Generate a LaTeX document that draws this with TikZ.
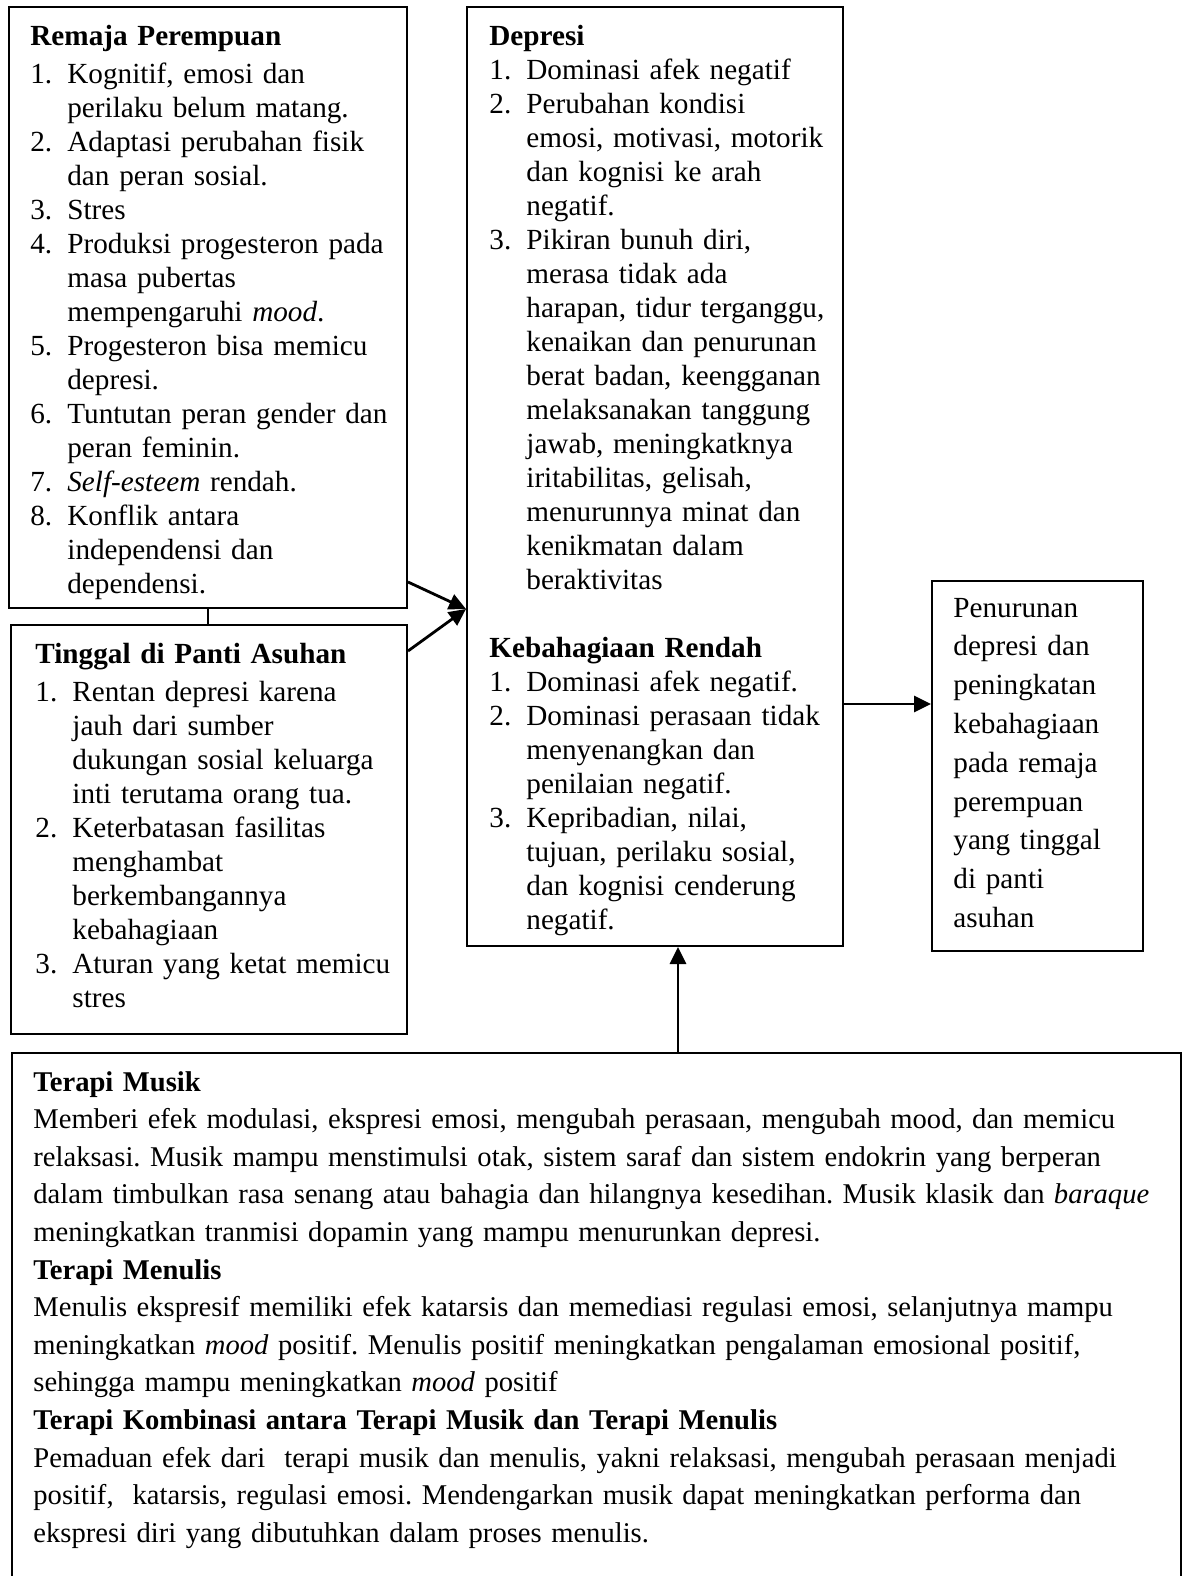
\documentclass[tikz,border=0pt]{standalone}
\usepackage{fontspec}
\setmainfont{Liberation Serif}
\usepackage{tikz}
\usetikzlibrary{arrows.meta,fit}

\newlength\numw
\setlength\numw{18.5pt}
\newcommand{\itm}[1]{\makebox[\numw][l]{#1}}
\newcommand{\ind}{\hspace*{\numw}}
\frenchspacing

\begin{document}
\begin{tikzpicture}[x=0.5pt, y=-0.5pt,
    box/.style={draw, line width=1pt, inner sep=0pt},
    txt/.style={anchor=base west, inner sep=0pt, align=left, text width=#1,
      font=\fontsize{14.6pt}{17pt}\selectfont},
    txt/.default=190pt,
    arr/.style={-{Triangle[length=8.5pt,width=8pt]}, line width=1.4pt}]
    \useasboundingbox (0,0) rectangle (1191,1576);
    % Box Remaja Perempuan
    \node[box, fit={(9,7) (407,608)}] (rem) {};
    \node[txt] (remtxt) at (30,45) {\textbf{Remaja Perempuan}\\[2pt]
      \itm{1.}Kognitif, emosi dan\\
      \ind perilaku belum matang.\\
      \itm{2.}Adaptasi perubahan fisik\\
      \ind dan peran sosial.\\
      \itm{3.}Stres\\
      \itm{4.}Produksi progesteron pada\\
      \ind masa pubertas\\
      \ind mempengaruhi \textit{mood}.\\
      \itm{5.}Progesteron bisa memicu\\
      \ind depresi.\\
      \itm{6.}Tuntutan peran gender dan\\
      \ind peran feminin.\\
      \itm{7.}\textit{Self-esteem} rendah.\\
      \itm{8.}Konflik antara\\
      \ind independensi dan\\
      \ind dependensi.};
    % Box Tinggal di Panti Asuhan
    \node[box, fit={(11,625) (407,1034)}] (pan) {};
    \node[txt] (pantxt) at (35,663) {\textbf{Tinggal di Panti Asuhan}\\[2pt]
      \itm{1.}Rentan depresi karena\\
      \ind jauh dari sumber\\
      \ind dukungan sosial keluarga\\
      \ind inti terutama orang tua.\\
      \itm{2.}Keterbatasan fasilitas\\
      \ind menghambat\\
      \ind berkembangannya\\
      \ind kebahagiaan\\
      \itm{3.}Aturan yang ketat memicu\\
      \ind stres};
    % Box Depresi / Kebahagiaan Rendah
    \node[box, fit={(467,7) (843,946)}] (dep) {};
    \node[txt] (deptxt) at (489,45) {\textbf{Depresi}\\
      \itm{1.}Dominasi afek negatif\\
      \itm{2.}Perubahan kondisi\\
      \ind emosi, motivasi, motorik\\
      \ind dan kognisi ke arah\\
      \ind negatif.\\
      \itm{3.}Pikiran bunuh diri,\\
      \ind merasa tidak ada\\
      \ind harapan, tidur terganggu,\\
      \ind kenaikan dan penurunan\\
      \ind berat badan, keengganan\\
      \ind melaksanakan tanggung\\
      \ind jawab, meningkatknya\\
      \ind iritabilitas, gelisah,\\
      \ind menurunnya minat dan\\
      \ind kenikmatan dalam\\
      \ind beraktivitas\\[17pt]
      \textbf{Kebahagiaan Rendah}\\
      \itm{1.}Dominasi afek negatif.\\
      \itm{2.}Dominasi perasaan tidak\\
      \ind menyenangkan dan\\
      \ind penilaian negatif.\\
      \itm{3.}Kepribadian, nilai,\\
      \ind tujuan, perilaku sosial,\\
      \ind dan kognisi cenderung\\
      \ind negatif.};
    % Box hasil
    \node[box, fit={(932,581) (1143,951)}] (out) {};
    \node[txt=100pt, font=\fontsize{14.6pt}{19.4pt}\selectfont] (outtxt) at (953,617)
      {Penurunan\\ depresi dan\\ peningkatan\\ kebahagiaan\\ pada remaja\\
       perempuan\\ yang tinggal\\ di panti\\ asuhan};
    % Box terapi (open at the bottom)
    \node[fit={(12,1053) (1181,1576)}, inner sep=0pt] (ter) {};
    \draw[line width=1pt] (ter.south west) |- (ter.north east) -- (ter.south east);
    \node[txt=600pt, font=\fontsize{14.3pt}{18.8pt}\selectfont] (tertxt) at (33,1091)
      {\textbf{Terapi Musik}\\
      Memberi efek modulasi, ekspresi emosi, mengubah perasaan, mengubah mood, dan memicu\\
      relaksasi. Musik mampu menstimulsi otak, sistem saraf dan sistem endokrin yang berperan\\
      dalam timbulkan rasa senang atau bahagia dan hilangnya kesedihan. Musik klasik dan \textit{baraque}\\
      meningkatkan tranmisi dopamin yang mampu menurunkan depresi.\\
      \textbf{Terapi Menulis}\\
      Menulis ekspresif memiliki efek katarsis dan memediasi regulasi emosi, selanjutnya mampu\\
      meningkatkan \textit{mood} positif. Menulis positif meningkatkan pengalaman emosional positif,\\
      sehingga mampu meningkatkan \textit{mood} positif\\
      \textbf{Terapi Kombinasi antara Terapi Musik dan Terapi Menulis}\\
      Pemaduan efek dari~ terapi musik dan menulis, yakni relaksasi, mengubah perasaan menjadi\\
      positif,~ katarsis, regulasi emosi. Mendengarkan musik dapat meningkatkan performa dan\\
      ekspresi diri yang dibutuhkan dalam proses menulis.};
    % Connectors
    \draw[line width=1pt] (rem.south) -- (rem.south |- pan.north);
    \coordinate (meet) at (dep.west |- rem.south);
    \draw[arr] ([yshift=13.5pt]rem.south east) -- (meet);
    \draw[arr] ([yshift=-13.5pt]pan.north east) -- (meet);
    \coordinate (outin) at ([yshift=31pt]out.west);
    \draw[arr] (dep.east |- outin) -- (outin);
    \coordinate (depin) at ([xshift=11.5pt]dep.south);
    \draw[arr] (depin |- ter.north) -- (depin);
\end{tikzpicture}
\end{document}
